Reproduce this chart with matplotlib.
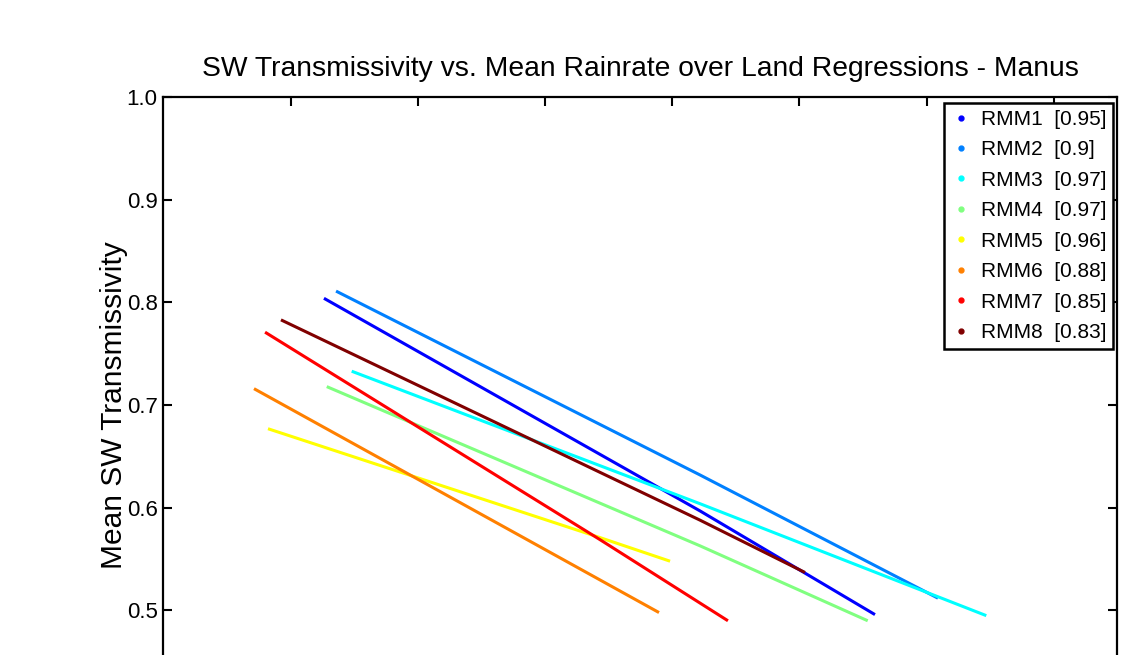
import matplotlib
matplotlib.use("Agg")
import matplotlib.pyplot as plt
from matplotlib.lines import Line2D

plt.rcParams["font.family"] = ["Liberation Sans", "DejaVu Sans"]

# Regression lines (x in axis units, y = transmissivity)
names = ["RMM1", "RMM2", "RMM3", "RMM4", "RMM5", "RMM6", "RMM7", "RMM8"]
r_values = ["0.95", "0.9", "0.97", "0.97", "0.96", "0.88", "0.85", "0.83"]
colors = [(0, 0, 1), (0, 0.5, 1), (0, 1, 1), (0.5, 1, 0.5),
          (1, 1, 0), (1, 0.5, 0), (1, 0, 0), (0.5, 0, 0)]

rmm1_x = [1.263, 4.219, 5.595]
rmm1_y = [0.804, 0.597, 0.496]
rmm2_x = [1.358, 4.219, 6.090]
rmm2_y = [0.811, 0.632, 0.512]
rmm3_x = [1.481, 4.219, 6.470]
rmm3_y = [0.733, 0.604, 0.495]
rmm4_x = [1.285, 4.219, 5.538]
rmm4_y = [0.718, 0.563, 0.490]
rmm5_x = [0.823, 3.433, 3.984]
rmm5_y = [0.677, 0.571, 0.548]
rmm6_x = [0.713, 3.897]
rmm6_y = [0.716, 0.498]
rmm7_x = [0.800, 3.433, 4.439]
rmm7_y = [0.771, 0.569, 0.490]
rmm8_x = [0.925, 4.219, 5.045]
rmm8_y = [0.783, 0.588, 0.537]

xs = [rmm1_x, rmm2_x, rmm3_x, rmm4_x, rmm5_x, rmm6_x, rmm7_x, rmm8_x]
ys = [rmm1_y, rmm2_y, rmm3_y, rmm4_y, rmm5_y, rmm6_y, rmm7_y, rmm8_y]

W, H = 1134, 655
fig = plt.figure(figsize=(W / 100, H / 100), dpi=100)

# axes box in pixels; bottom part of the plot is cut off by the frame
left, right, top = 163.3, 1117.3, 97.0
ylo, yhi = 0.4, 1.0
bottom_px = top + (yhi - ylo) * 1027
ax = fig.add_axes([left / W, 1 - bottom_px / H, (right - left) / W, (bottom_px - top) / H])

for x, y, c in zip(xs, ys, colors):
    ax.plot(x, y, color=c, lw=2.2, solid_capstyle="butt")

ax.set_xlim(0, 7.5)
ax.set_ylim(ylo, yhi)
ax.set_xticks([1, 2, 3, 4, 5, 6, 7])
ax.set_yticks([0.5, 0.6, 0.7, 0.8, 0.9, 1.0])
ax.set_yticklabels(["0.5", "0.6", "0.7", "0.8", "0.9", "1.0"])
ax.tick_params(direction="in", length=6.5, width=1.5, labelsize=16, pad=4,
               top=True, right=True, labelbottom=False, colors="black")
for sp in ax.spines.values():
    sp.set_linewidth(1.6)

ax.set_title("SW Transmissivity vs. Mean Rainrate over Land Regressions - Manus",
             fontsize=20.3, pad=15)
ax.set_ylabel("Mean SW Transmissivity", fontsize=21.5, labelpad=-1)

handles = [Line2D([], [], ls="None", marker=".", markersize=7, color=c) for c in colors]
labels = [f"{n}  [{r}]" for n, r in zip(names, r_values)]
leg = ax.legend(handles, labels, loc="upper right",
                bbox_to_anchor=(1113 / W, 1 - 103 / H), bbox_transform=fig.transFigure,
                borderaxespad=0, fontsize=15, fancybox=False, framealpha=1,
                edgecolor="black", handlelength=1.0, handletextpad=0.45,
                labelspacing=0.55, borderpad=0.33)
leg.get_frame().set_linewidth(1.8)

fig.savefig("out.png", dpi=100)
